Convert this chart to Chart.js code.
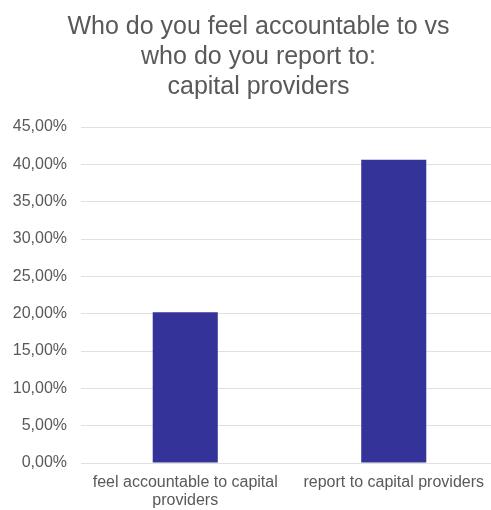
<!DOCTYPE html>
<html>
<head>
<meta charset="utf-8">
<script src="https://cdn.jsdelivr.net/npm/chart.js@4.4.0/dist/chart.umd.min.js"></script>
<style>
  html, body { margin: 0; padding: 0; background: #ffffff; overflow: hidden; }
  #wrap { width: 516px; height: 510px; }
</style>
</head>
<body>
<div id="wrap"><canvas id="chart" width="516" height="510"></canvas></div>
<script>
// Survey shares, in percent
const categories = [
  ['feel accountable to capital', 'providers'],
  'report to capital providers'
];
const shares = [20.2, 40.6];
const titleLines = [
  'Who do you feel accountable to vs',
  'who do you report to:',
  'capital providers'
];
const yMax = 45;
const yStep = 5;

const textGrey = '#595959';
const fontFamily = '"Liberation Sans", Arial, sans-serif';

// Centre the title a little right of the canvas middle, over the plot region
const titleOffset = {
  id: 'titleOffset',
  afterLayout(chart) {
    const t = chart.titleBlock;
    if (t) {
      t.left = 19;
      t.right = chart.chartArea.right;
    }
  }
};

new Chart(document.getElementById('chart'), {
  type: 'bar',
  data: {
    labels: categories,
    datasets: [{
      data: shares,
      backgroundColor: '#333399',
      borderWidth: 0,
      barPercentage: 0.312,
      categoryPercentage: 1
    }]
  },
  options: {
    responsive: false,
    animation: false,
    devicePixelRatio: 1,
    layout: { padding: { left: 0, right: 18, top: 0, bottom: 0 } },
    plugins: {
      legend: { display: false },
      tooltip: { enabled: false },
      title: {
        display: true,
        text: titleLines,
        color: textGrey,
        font: { family: fontFamily, size: 25, weight: 'normal', lineHeight: 1.2 },
        padding: { top: 12, bottom: 25 }
      }
    },
    scales: {
      x: {
        grid: { display: false, drawTicks: false, tickLength: 0 },
        border: { display: false },
        afterFit: s => { s.height = 47; },
        ticks: {
          color: textGrey,
          font: { family: fontFamily, size: 16, lineHeight: 1.15 },
          padding: 10,
          maxRotation: 0,
          autoSkip: false
        }
      },
      y: {
        min: 0,
        max: yMax,
        grid: { color: '#e0e0e0', lineWidth: 1, drawTicks: false },
        border: { display: false },
        afterFit: s => { s.width = 81; },
        ticks: {
          stepSize: yStep,
          color: textGrey,
          font: { family: fontFamily, size: 16 },
          padding: 14,
          callback: v => v.toFixed(2).replace('.', ',') + '%'
        }
      }
    }
  },
  plugins: [titleOffset]
});
</script>
</body>
</html>
